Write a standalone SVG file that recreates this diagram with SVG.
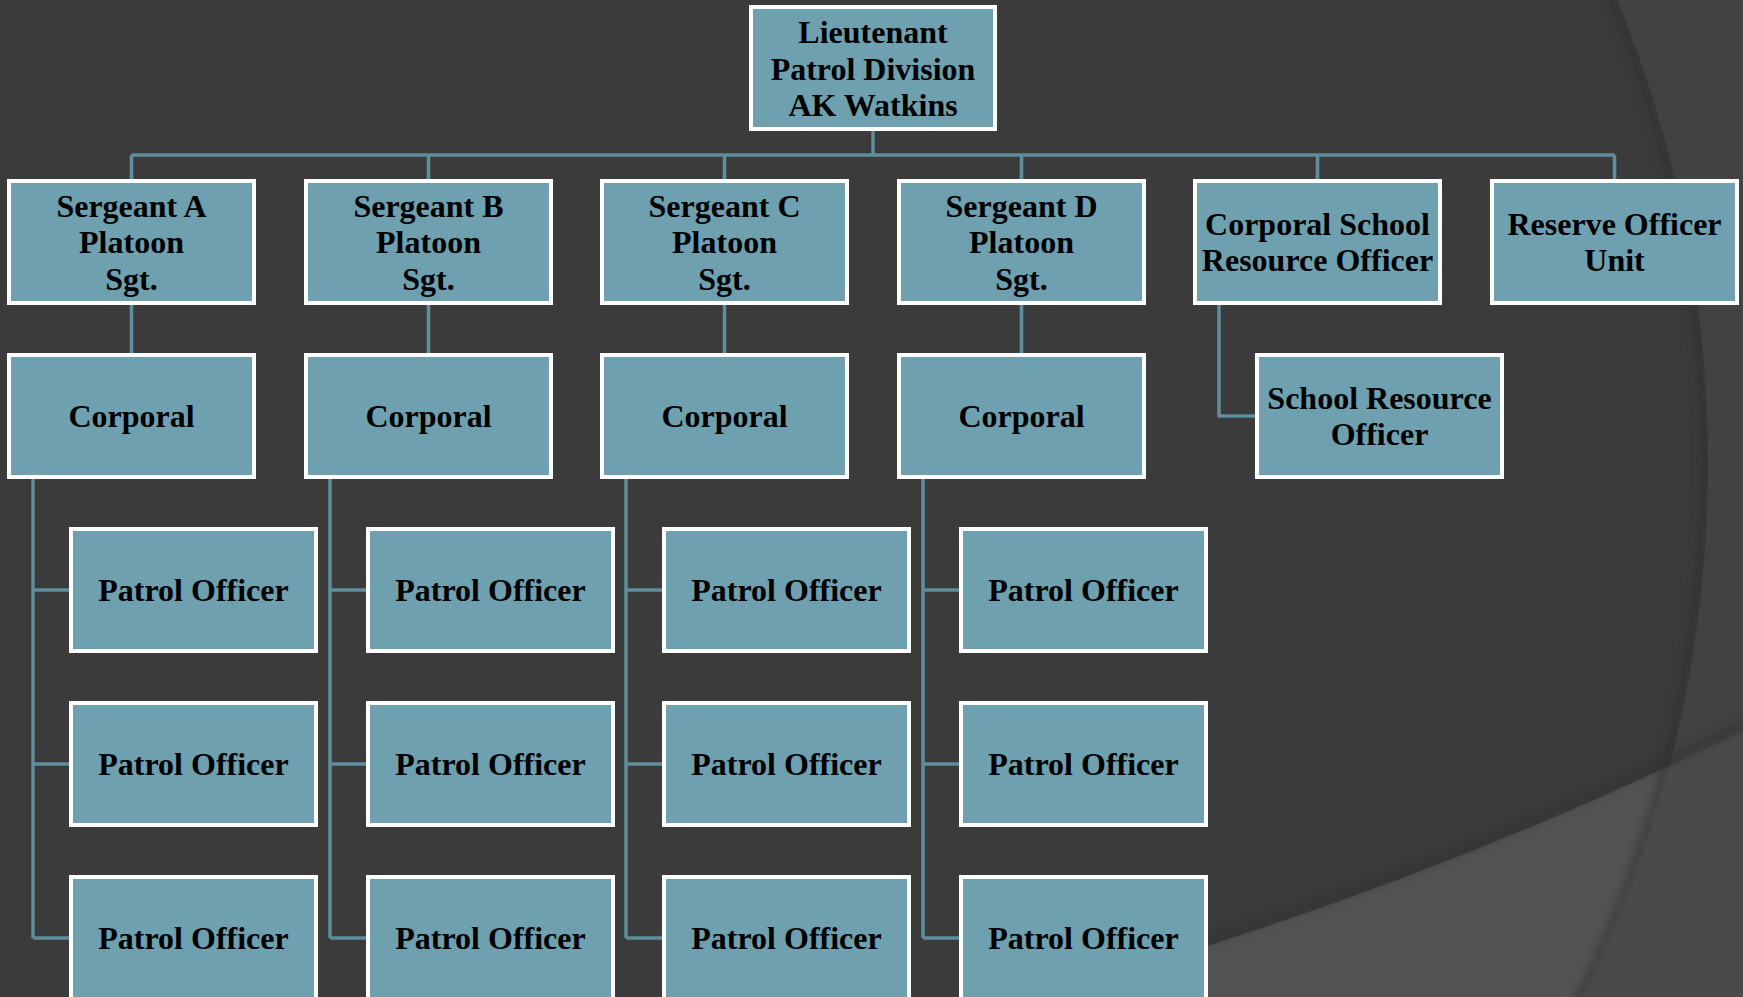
<svg xmlns="http://www.w3.org/2000/svg" width="1743" height="997" viewBox="0 0 1743 997">
<style>
.box{fill:#6ea0b0;stroke:#ffffff;stroke-width:4}
.t{font-family:"Liberation Serif","Times New Roman",serif;font-weight:bold;font-size:32px;fill:#000;text-anchor:middle}
.c{fill:none;stroke:#5f8e9d;stroke-width:3.5}
</style>
<defs>
<clipPath id="circ"><circle cx="487" cy="462" r="1221"/></clipPath>
<filter id="blur" x="-0.1" y="-0.1" width="1.2" height="1.2"><feGaussianBlur stdDeviation="4"/></filter>
</defs>
<g id="background">
<rect x="0" y="0" width="1743" height="997" fill="#424242"/>
<circle cx="487" cy="462" r="1221" fill="#3b3b3b"/>
<path d="M 940 1020.5 A 3918 3918 0 0 0 1743 730.8 L 1743 997 L 940 997 Z" fill="#4a4a4a"/>
<path d="M 940 1020.5 A 3918 3918 0 0 0 1743 730.8 L 1743 997 L 940 997 Z" fill="#535353" clip-path="url(#circ)"/>
<g clip-path="url(#circ)"><circle cx="487" cy="462" r="1217" fill="none" stroke="#2e2e2e" stroke-width="8" opacity="0.6" filter="url(#blur)"/></g>
<path d="M 940 1015 A 3918 3918 0 0 0 1743 725" fill="none" stroke="#2e2e2e" stroke-width="8" opacity="0.5" filter="url(#blur)"/>
</g>
<g id="connectors">
<path class="c" d="M873 131 V155 M131.5 155 H1614.5 M131.5 155 V179 M428.5 155 V179 M724.5 155 V179 M1021.5 155 V179 M1317.5 155 V179 M1614.5 155 V179"/>
<path class="c" d="M131.5 305 V353 M428.5 305 V353 M724.5 305 V353 M1021.5 305 V353"/>
<path class="c" d="M33 479 V938 M33 590 H69 M33 764 H69 M33 938 H69"/>
<path class="c" d="M330 479 V938 M330 590 H366 M330 764 H366 M330 938 H366"/>
<path class="c" d="M626 479 V938 M626 590 H662 M626 764 H662 M626 938 H662"/>
<path class="c" d="M923 479 V938 M923 590 H959 M923 764 H959 M923 938 H959"/>
<path class="c" d="M1219 305 V416 H1255"/>
</g>
<g id="lieutenant"><rect class="box" x="751" y="7" width="244" height="122"/><text class="t" x="873" y="43">Lieutenant</text><text class="t" x="873" y="79.5">Patrol Division</text><text class="t" x="873" y="116">AK Watkins</text></g>
<g id="sergeant-a"><rect class="box" x="9" y="181" width="245" height="122"/><text class="t" x="131.5" y="216.5">Sergeant A</text><text class="t" x="131.5" y="253">Platoon</text><text class="t" x="131.5" y="289.5">Sgt.</text></g>
<g id="sergeant-b"><rect class="box" x="306" y="181" width="245" height="122"/><text class="t" x="428.5" y="216.5">Sergeant B</text><text class="t" x="428.5" y="253">Platoon</text><text class="t" x="428.5" y="289.5">Sgt.</text></g>
<g id="sergeant-c"><rect class="box" x="602" y="181" width="245" height="122"/><text class="t" x="724.5" y="216.5">Sergeant C</text><text class="t" x="724.5" y="253">Platoon</text><text class="t" x="724.5" y="289.5">Sgt.</text></g>
<g id="sergeant-d"><rect class="box" x="899" y="181" width="245" height="122"/><text class="t" x="1021.5" y="216.5">Sergeant D</text><text class="t" x="1021.5" y="253">Platoon</text><text class="t" x="1021.5" y="289.5">Sgt.</text></g>
<g id="corporal-sro"><rect class="box" x="1195" y="181" width="245" height="122"/><text class="t" x="1317.5" y="235">Corporal School</text><text class="t" x="1317.5" y="271">Resource Officer</text></g>
<g id="reserve"><rect class="box" x="1492" y="181" width="245" height="122"/><text class="t" x="1614.5" y="235">Reserve Officer</text><text class="t" x="1614.5" y="271">Unit</text></g>
<g id="corporal-a"><rect class="box" x="9" y="355" width="245" height="122"/><text class="t" x="131.5" y="427">Corporal</text></g>
<g id="corporal-b"><rect class="box" x="306" y="355" width="245" height="122"/><text class="t" x="428.5" y="427">Corporal</text></g>
<g id="corporal-c"><rect class="box" x="602" y="355" width="245" height="122"/><text class="t" x="724.5" y="427">Corporal</text></g>
<g id="corporal-d"><rect class="box" x="899" y="355" width="245" height="122"/><text class="t" x="1021.5" y="427">Corporal</text></g>
<g id="sro"><rect class="box" x="1257" y="355" width="245" height="122"/><text class="t" x="1379.5" y="409">School Resource</text><text class="t" x="1379.5" y="445">Officer</text></g>
<g id="patrol-a1"><rect class="box" x="71" y="529" width="245" height="122"/><text class="t" x="193.5" y="601">Patrol Officer</text></g>
<g id="patrol-a2"><rect class="box" x="71" y="703" width="245" height="122"/><text class="t" x="193.5" y="775">Patrol Officer</text></g>
<g id="patrol-a3"><rect class="box" x="71" y="877" width="245" height="122"/><text class="t" x="193.5" y="949">Patrol Officer</text></g>
<g id="patrol-b1"><rect class="box" x="368" y="529" width="245" height="122"/><text class="t" x="490.5" y="601">Patrol Officer</text></g>
<g id="patrol-b2"><rect class="box" x="368" y="703" width="245" height="122"/><text class="t" x="490.5" y="775">Patrol Officer</text></g>
<g id="patrol-b3"><rect class="box" x="368" y="877" width="245" height="122"/><text class="t" x="490.5" y="949">Patrol Officer</text></g>
<g id="patrol-c1"><rect class="box" x="664" y="529" width="245" height="122"/><text class="t" x="786.5" y="601">Patrol Officer</text></g>
<g id="patrol-c2"><rect class="box" x="664" y="703" width="245" height="122"/><text class="t" x="786.5" y="775">Patrol Officer</text></g>
<g id="patrol-c3"><rect class="box" x="664" y="877" width="245" height="122"/><text class="t" x="786.5" y="949">Patrol Officer</text></g>
<g id="patrol-d1"><rect class="box" x="961" y="529" width="245" height="122"/><text class="t" x="1083.5" y="601">Patrol Officer</text></g>
<g id="patrol-d2"><rect class="box" x="961" y="703" width="245" height="122"/><text class="t" x="1083.5" y="775">Patrol Officer</text></g>
<g id="patrol-d3"><rect class="box" x="961" y="877" width="245" height="122"/><text class="t" x="1083.5" y="949">Patrol Officer</text></g>
</svg>
